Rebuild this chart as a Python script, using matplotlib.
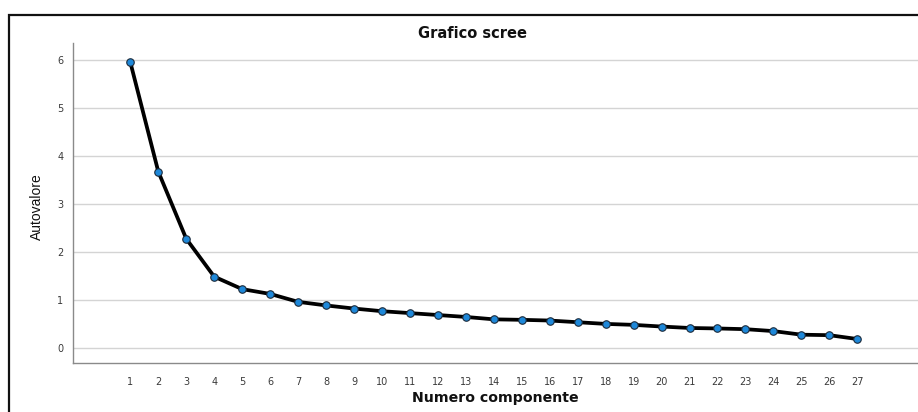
import numpy as np
import matplotlib
matplotlib.use("Agg")
import matplotlib.pyplot as plt
from matplotlib.patches import Rectangle

plt.rcParams['font.family'] = ['DejaVu Sans']

# Scree plot data
components = list(range(1, 28))
eigenvalues = [5.95, 3.67, 2.27, 1.48, 1.22, 1.12, 0.955, 0.88, 0.815, 0.76,
               0.72, 0.68, 0.64, 0.59, 0.58, 0.565, 0.53, 0.495, 0.475, 0.44,
               0.41, 0.40, 0.385, 0.345, 0.27, 0.26, 0.18]
yticks = [0, 1, 2, 3, 4, 5, 6]

title = "Grafico scree"
xlabel = "Numero componente"
ylabel = "Autovalore"


def main():
    fig = plt.figure(figsize=(9.18, 4.12), dpi=100)

    # outer frame (cut at right and bottom, like the screenshot)
    top = 1 - 14.5 / 412
    frame = Rectangle((9 / 918, -0.1), 1.1, top + 0.1,
                      transform=fig.transFigure, fill=False,
                      edgecolor="#111111", linewidth=1.6, clip_on=False)
    fig.patches.append(frame)

    ax = fig.add_axes([73 / 918, 1 - 363 / 412, 1.01 - 73 / 918, (363 - 43) / 412])

    ax.plot(components, eigenvalues, color="black", linewidth=2.7,
            solid_joinstyle="round", zorder=3)
    ax.plot(components, eigenvalues, linestyle="none", marker="o",
            markersize=5.4, markerfacecolor="#1e88d9",
            markeredgecolor="#1b2a3a", markeredgewidth=0.8, zorder=4)

    ax.set_xlim(-1.05, 29.5)
    ax.set_ylim(-0.32, 6.35)
    ax.set_xticks(components)
    ax.set_xticklabels([str(c) for c in components])
    ax.set_yticks(yticks)

    ax.yaxis.grid(True, color="#d4d4d4", linewidth=1.0)
    ax.set_axisbelow(True)
    for side in ["top", "right"]:
        ax.spines[side].set_visible(False)
    for side in ["left", "bottom"]:
        ax.spines[side].set_color("#8a8a8a")
        ax.spines[side].set_linewidth(1.0)

    ax.tick_params(axis="both", length=0, labelsize=7, labelcolor="#3a3a3a")
    ax.tick_params(axis="x", pad=10)
    ax.tick_params(axis="y", pad=7)

    fig.text(472 / 918, 1 - 33 / 412, title, ha="center", va="center",
             fontsize=10.5, fontweight="bold", color="#111111")
    fig.text(495 / 918, 1 - 398 / 412, xlabel, ha="center", va="center",
             fontsize=10.2, fontweight="bold", color="#111111")
    fig.text(37 / 918, 1 - 207 / 412, ylabel, ha="center", va="center",
             rotation=90, fontsize=10, color="#111111",
             family=["Liberation Sans", "DejaVu Sans"])

    fig.savefig("out.png", dpi=100)


if __name__ == "__main__":
    main()
